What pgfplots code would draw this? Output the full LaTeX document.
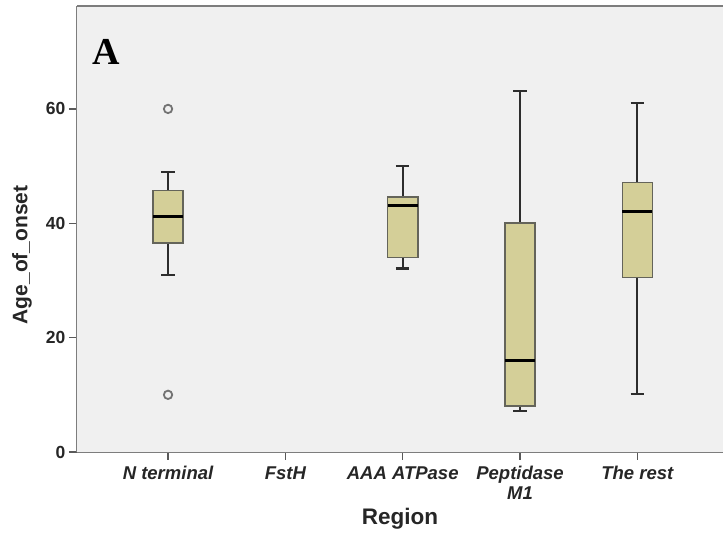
\documentclass[border=0pt]{standalone}
\usepackage{pgfplots}
\pgfplotsset{compat=1.18}
\usepgfplotslibrary{statistics}
\usepackage{fontspec}
\setmainfont{Liberation Sans}
\newfontfamily\serifA{Liberation Serif}
\definecolor{bg}{RGB}{240,240,240}
\definecolor{boxfill}{RGB}{212,207,152}
\definecolor{boxedge}{RGB}{100,100,90}
\definecolor{frame}{RGB}{125,125,125}
\definecolor{whisk}{RGB}{45,45,45}
\begin{document}
\begin{tikzpicture}
\begin{axis}[name=ax, scale only axis, width=646pt, height=446pt,
 xmin=-0.776, xmax=4.73, ymin=0, ymax=78,
 boxplot/draw direction=y,
 axis x line*=bottom, axis y line*=left,
 axis line style={frame, line width=1.5pt},
 xtick={0,1,2,3,4},
 xticklabels={N terminal,FstH,AAA ATPase,{Peptidase\\M1},The rest},
 ytick={0,20,40,60},
 tick align=outside, major tick length=8pt,
 tick style={line width=1.3pt, color=black!65},
 /pgf/number format/assume math mode=true,
 yticklabel style={font=\fontsize{17.5}{17.5}\selectfont\bfseries, text=black!85},
 xticklabel style={font=\fontsize{18.5}{20}\selectfont\bfseries\itshape, align=center, text=black!85, yshift=-3pt},
 xlabel={Region}, ylabel={Age\_of\_onset},
 every axis x label/.style={at={(axis description cs:0.5,-0.150)}, anchor=center},
 every axis y label/.style={at={(axis description cs:-0.085,0.442)}, rotate=90, anchor=center},
 xlabel style={font=\fontsize{22.5}{22.5}\selectfont\bfseries, text=black!85},
 ylabel style={font=\fontsize{21}{21}\selectfont\bfseries, text=black!85},
 boxplot/every box/.style={draw=boxedge, fill=boxfill, line width=1.6pt},
 boxplot/every whisker/.style={draw=whisk, line width=2.2pt},
 boxplot/every median/.style={draw=black, line width=3pt},
 clip=false
]
\fill[bg] (rel axis cs:0,0) rectangle (rel axis cs:1,1);
\draw[frame, line width=1.5pt] (rel axis cs:0,1) -- (rel axis cs:1,1);
\addplot[boxplot prepared={draw position=0, lower whisker=31, lower quartile=36.5,
  median=41.2, upper quartile=45.7, upper whisker=49, box extend=0.256, whisker extend=0.115},
  mark=o, mark size=4.2pt, mark options={draw=black!55, line width=1.8pt}]
  table[row sep=\\, y index=0] {y\\60\\10\\};
\addplot[boxplot prepared={draw position=2, lower whisker=32.1, lower quartile=34,
  median=43.1, upper quartile=44.6, upper whisker=50, box extend=0.256, whisker extend=0.115}]
  coordinates {};
\addplot[boxplot prepared={draw position=3, lower whisker=7.1, lower quartile=8,
  median=16, upper quartile=40.1, upper whisker=63.1, box extend=0.256, whisker extend=0.115}]
  coordinates {};
\addplot[boxplot prepared={draw position=4, lower whisker=10.1, lower quartile=30.5,
  median=42, upper quartile=47.1, upper whisker=61, box extend=0.256, whisker extend=0.115}]
  coordinates {};
\node[anchor=north west, font=\fontsize{38}{38}\selectfont\serifA\bfseries, inner sep=0pt]
  at (rel axis cs:0.023,0.925) {A};
\end{axis}
\pgfresetboundingbox
\path ([xshift=-77pt,yshift=-88pt]ax.south west) rectangle ([yshift=6pt]ax.north east);
\end{tikzpicture}
\end{document}
